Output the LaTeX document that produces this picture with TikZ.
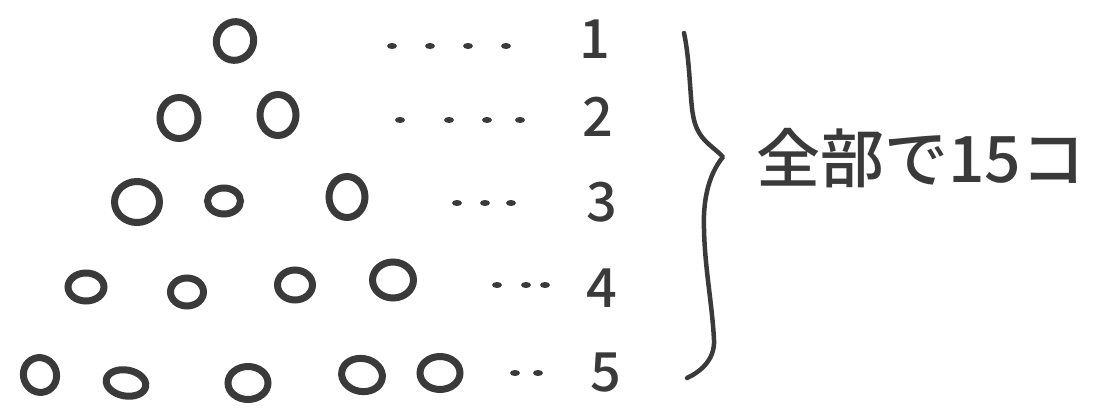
\documentclass[tikz,border=0pt]{standalone}
\usepackage{fontspec}
\newfontfamily\cjk{Noto Sans CJK JP}
\newfontfamily\cjkb{Noto Sans CJK JP Medium}
\usetikzlibrary{shapes.geometric}
\definecolor{ink}{HTML}{3A3A3A}
\begin{document}
\begin{tikzpicture}[x=1pt,y=-1pt,
  ring/.style={draw=ink, line width=7pt, ellipse, inner sep=0pt},
  dotmark/.style={fill=ink, ellipse, inner sep=0pt, minimum width=10pt, minimum height=6pt},
  numlabel/.style={text=ink, font=\cjkb\fontsize{54}{54}\selectfont, inner sep=0pt},
  sumlabel/.style={text=ink, font=\cjkb\fontsize{64}{64}\selectfont, inner sep=0pt, anchor=west}]
\useasboundingbox (0,0) rectangle (1096,417);
% row 1
\node[ring, minimum width=37pt, minimum height=39pt, rotate=-25] (c11) at (235,41) {};
% row 2
\node[ring, minimum width=38pt, minimum height=41pt] (c21) at (179,118) {};
\node[ring, minimum width=36pt, minimum height=41pt] (c22) at (278,115) {};
% row 3
\node[ring, minimum width=45pt, minimum height=41pt] (c31) at (137,202) {};
\node[ring, minimum width=33pt, minimum height=26pt] (c32) at (224,201) {};
\node[ring, minimum width=36pt, minimum height=41pt] (c33) at (347,197) {};
% row 4
\node[ring, minimum width=36pt, minimum height=28pt] (c41) at (86,287) {};
\node[ring, minimum width=33pt, minimum height=28pt] (c42) at (187,292) {};
\node[ring, minimum width=35pt, minimum height=30pt] (c43) at (295,285) {};
\node[ring, minimum width=41pt, minimum height=36pt] (c44) at (393,280) {};
% row 5
\node[ring, minimum width=33pt, minimum height=35pt, rotate=20] (c51) at (40,375) {};
\node[ring, minimum width=40pt, minimum height=26pt, rotate=-10] (c52) at (126,383) {};
\node[ring, minimum width=40pt, minimum height=33pt] (c53) at (248,383) {};
\node[ring, minimum width=41pt, minimum height=33pt, rotate=-10] (c54) at (362,375) {};
\node[ring, minimum width=40pt, minimum height=33pt] (c55) at (440,373) {};
% dots
\foreach \x in {392,430,468,506} \node[dotmark] at (\x,46) {};
\foreach \x in {400,449,487,520} \node[dotmark] at (\x,120) {};
\foreach \x in {457,485,511} \node[dotmark] at (\x,203) {};
\foreach \x in {497,526,545} \node[dotmark] at (\x,285) {};
\foreach \x in {515,538} \node[dotmark] at (\x,373) {};
% numbers
\node[numlabel] (n1) at (595,39) {1};
\node[numlabel] (n2) at (598,117) {2};
\node[numlabel] (n3) at (602,202) {3};
\node[numlabel] (n4) at (602,288) {4};
\node[numlabel] (n5) at (606,373) {5};
% brace
\coordinate (btop) at (684,33);
\coordinate (btip) at (723,157);
\coordinate (bbot) at (687,378);
\draw[ink, line width=4.5pt, line cap=round, line join=round]
  (btop) .. controls (690,60) and (690,100) .. (693,115)
  .. controls (697,140) and (712,145) .. (btip)
  .. controls (712,170) and (705,190) .. (704,215)
  .. controls (703,260) and (712,300) .. (714,340)
  .. controls (715,360) and (700,372) .. (bbot);
% total label
\node[sumlabel] (total) at (756,158) {全部で15コ};
\end{tikzpicture}
\end{document}
